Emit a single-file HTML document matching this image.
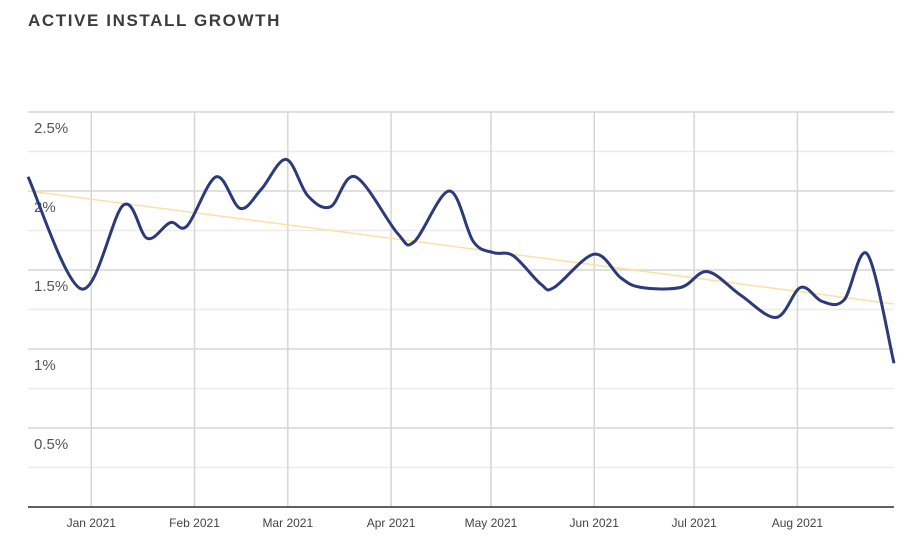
<!DOCTYPE html>
<html><head><meta charset="utf-8"><style>
body{margin:0;background:#fff;width:919px;height:542px;overflow:hidden;font-family:"Liberation Sans",sans-serif}
#title{position:absolute;left:28px;top:11px;font-size:17px;letter-spacing:1.6px;color:#3c3c3c;font-weight:bold}
</style></head><body>
<div id="title">ACTIVE INSTALL GROWTH</div>
<svg id="chart" width="919" height="542" style="position:absolute;left:0;top:0"></svg>
<script>
const days=[-19,-3,9.6,16.8,23.7,28.8,37.5,44.7,51,58.5,65,71.8,79.3,92,97,107.5,114.7,120.7,126.7,135,139,151,159,165,177,185,195,205.7,213,219.5,226,233,241];
const values=[2.09,1.38,1.91,1.70,1.80,1.78,2.09,1.89,2.01,2.20,1.97,1.90,2.09,1.73,1.68,2.00,1.68,1.61,1.59,1.41,1.39,1.60,1.45,1.39,1.39,1.49,1.34,1.20,1.39,1.30,1.31,1.60,0.91];
const trendDays=[-19,241];
const trendValues=[2.0,1.285];
const yTicks=[0,0.5,1,1.5,2,2.5];
const yTickLabels=["","0.5%","1%","1.5%","2%","2.5%"];
const monthDays=[0,31,59,90,120,151,181,212];
const monthLabels=["Jan 2021","Feb 2021","Mar 2021","Apr 2021","May 2021","Jun 2021","Jul 2021","Aug 2021"];
const X0=28,X1=894,Y0=507,YT=112,dMin=-19,dMax=241,vMax=2.5;
const x=d=>X0+(d-dMin)/(dMax-dMin)*(X1-X0);
const y=v=>Y0-v/vMax*(Y0-YT);
const svg=document.getElementById('chart');const NS='http://www.w3.org/2000/svg';
function mk(t,a){const e=document.createElementNS(NS,t);for(const k in a)e.setAttribute(k,a[k]);svg.appendChild(e);return e;}
for(let i=0;i<=10;i++){const v=i*0.25;const g=mk('line',{x1:X0,x2:X1,y1:y(v),y2:y(v),stroke:i%2?'#ebebeb':'#d6d6d6','stroke-width':1.5});

}
yTicks.forEach((v,i)=>{if(!yTickLabels[i])return;const t=mk('text',{x:34,y:y(v)+21,'font-size':15,fill:'#555'});t.textContent=yTickLabels[i];

});
monthDays.forEach((d,i)=>{const l=mk('line',{x1:x(d),x2:x(d),y1:YT,y2:Y0,stroke:'#d6d6d6','stroke-width':1.5});


const t=mk('text',{x:x(d),y:527,'font-size':12,fill:'#444','text-anchor':'middle'});t.textContent=monthLabels[i];

});
const ax=mk('line',{x1:X0,x2:X1,y1:Y0,y2:Y0,stroke:'#333','stroke-width':1.5});


const tr=mk('line',{x1:x(trendDays[0]),y1:y(trendValues[0]),x2:x(trendDays[1]),y2:y(trendValues[1]),stroke:'#fbe0a6','stroke-width':1.5});


const P=days.map((d,i)=>[x(d),y(values[i])]);
let p='M'+P[0][0]+','+P[0][1];
for(let i=0;i<P.length-1;i++){const a=P[i-1]||P[i],b=P[i],c=P[i+1],e=P[i+2]||c;
p+=` C${b[0]+(c[0]-a[0])/6},${b[1]+(c[1]-a[1])/6} ${c[0]-(e[0]-b[0])/6},${c[1]-(e[1]-b[1])/6} ${c[0]},${c[1]}`;}
const ln=mk('path',{d:p,fill:'none',stroke:'#2d3a7a','stroke-width':3,'stroke-linejoin':'round'});


</script>
</body></html>
